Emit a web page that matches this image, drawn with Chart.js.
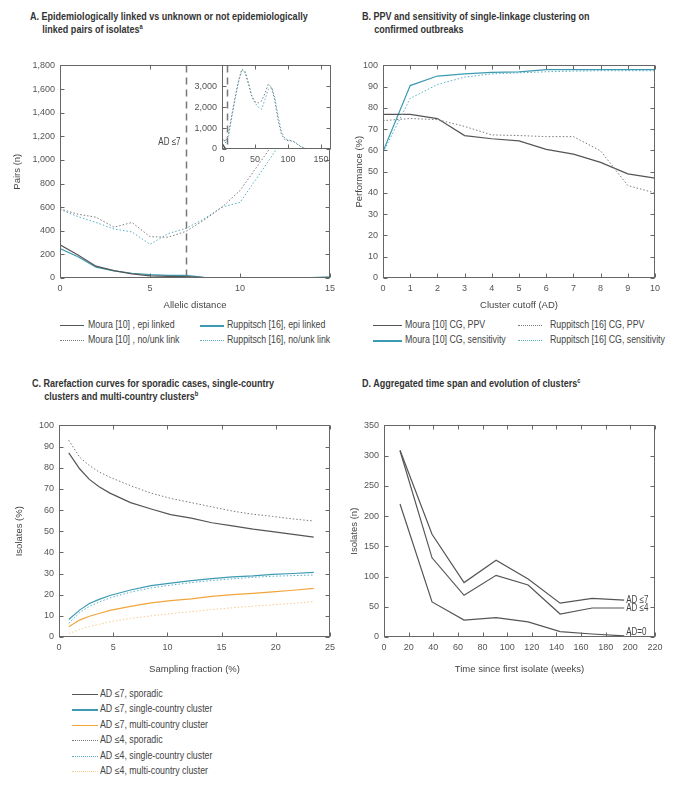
<!DOCTYPE html>
<html>
<head>
<meta charset="utf-8">
<script src="https://cdn.jsdelivr.net/npm/chart.js@4.4.1/dist/chart.umd.min.js"></script>
<style>
body { margin: 0; background: #fff; width: 676px; height: 785px; position: relative; overflow: hidden;
       font-family: 'Liberation Sans', Arial, sans-serif; color: #444; }
canvas { position: absolute; }
.title { position: absolute; font-weight: bold; font-size: 11px; line-height: 13px; color: #333; white-space: nowrap;
         padding-left: 15px; text-indent: -15px; transform: scaleX(0.82); transform-origin: 0 0; }
.title sup { font-size: 7px; line-height: 0; vertical-align: 4px; }
.leg { position: absolute; font-size: 10px; color: #444; white-space: nowrap; line-height: 12px;
       transform: scaleX(0.88); transform-origin: 0 50%; }
.smp { position: absolute; }
</style>
</head>
<body>
<div class="title" style="left:30px;top:10px">A. Epidemiologically linked vs unknown or not epidemiologically<br>linked pairs of isolates<sup>a</sup></div>
<div class="title" style="left:362px;top:10px">B. PPV and sensitivity of single-linkage clustering on<br>confirmed outbreaks</div>
<div class="title" style="left:32px;top:377px">C. Rarefaction curves for sporadic cases, single-country<br>clusters and multi-country clusters<sup>b</sup></div>
<div class="title" style="left:362px;top:377px">D. Aggregated time span and evolution of clusters<sup>c</sup></div>

<canvas id="chartA" width="340" height="260" style="left:0;top:55px"></canvas>
<canvas id="chartInset" width="150" height="115" style="left:190px;top:55px"></canvas>
<canvas id="chartB" width="336" height="260" style="left:340px;top:55px"></canvas>
<canvas id="chartC" width="340" height="265" style="left:0;top:415px"></canvas>
<canvas id="chartD" width="336" height="265" style="left:340px;top:415px"></canvas>
<div id="legends"></div>

<script>
// ---- A: pairs by allelic distance
const allelicDistance = [0, 1, 2, 3, 4, 5, 6, 7, 8, 9, 10, 11, 12, 13, 14, 15]
const mouraEpi = [282, 195, 100, 62, 35, 18, 13, 11, 4, 3, 2, 2, 2, 2, 2, 3]
const ruppEpi = [250, 180, 92, 60, 40, 28, 22, 22, 6, 4, 3, 3, 3, 3, 4, 10]
const mouraNoLink = [585, 540, 515, 430, 470, 350, 345, 395, 490, 600, 740, 955, 1170, 1450, 1750, 2050]
const ruppNoLink = [580, 520, 470, 415, 390, 285, 375, 420, 500, 600, 640, 860, 1085, 1350, 1650, 1950]
const pairTicks = [0, 200, 400, 600, 800, 1000, 1200, 1400, 1600, 1800]
const distanceTicks = [0, 5, 10, 15]

// inset: whole distance range
const insetDistance = [0, 5, 10, 15, 20, 25, 30, 35, 40, 45, 50, 55, 60, 65, 70, 75, 80, 85, 90, 95, 100, 105, 110, 115, 120, 125, 130, 135, 140, 145, 150, 155, 160]
const insetMouraNoLink = [585, 350, 740, 1650, 2500, 3250, 3800, 3700, 3150, 2550, 2250, 2200, 2300, 2650, 3100, 2950, 2300, 1350, 700, 450, 400, 380, 320, 200, 90, 30, 5, 0, 0, 0, 0, 0, 0]
const insetRuppNoLink = [580, 285, 640, 1550, 2400, 3200, 3750, 3650, 3100, 2500, 2200, 2000, 1900, 2350, 2850, 2950, 2450, 1550, 850, 500, 430, 400, 340, 220, 110, 40, 8, 0, 0, 0, 0, 0, 0]
const insetMouraEpi = [282, 18, 2, 1, 0, 0, 0]
const insetRuppEpi = [250, 28, 3, 5, 2, 1, 0]
const insetPairTicks = [0, 1000, 2000, 3000]
const insetDistanceTicks = [0, 50, 100, 150]

// ---- B: PPV / sensitivity per cutoff
const cutoff = [0, 1, 2, 3, 4, 5, 6, 7, 8, 9, 10]
const mouraPPV = [77, 77, 75, 67, 65.5, 64.5, 60.5, 58.3, 54.4, 49, 47]
const mouraSens = [59.5, 90.5, 95, 96, 96.7, 97, 98, 98, 98, 98, 98]
const ruppPPV = [74, 75, 74.5, 71.3, 67.3, 67, 66.5, 66.5, 59.8, 43.5, 40]
const ruppSens = [59, 84.5, 91, 94.5, 96, 96.5, 97, 97.3, 97.5, 97.5, 97.5]
const percentTicks = [0, 10, 20, 30, 40, 50, 60, 70, 80, 90, 100]
const cutoffTicks = [0, 1, 2, 3, 4, 5, 6, 7, 8, 9, 10]

// ---- C: rarefaction
const samplingFraction = [0.9, 1.9, 2.8, 3.7, 4.7, 6.6, 8.5, 10.3, 12.2, 14.1, 16.0, 17.9, 19.7, 21.6, 23.5]
const ad7Sporadic = [87, 79.5, 74.5, 71, 68, 63.5, 60.5, 57.8, 56.2, 54, 52.5, 51, 49.8, 48.5, 47.2]
const ad7Single = [8.3, 12.7, 15.8, 17.8, 19.6, 22.2, 24.3, 25.5, 26.6, 27.6, 28.4, 28.9, 29.6, 30, 30.5]
const ad7Multi = [4.8, 8, 9.8, 11.1, 12.6, 14.5, 16.1, 17.2, 18, 19.2, 20, 20.6, 21.3, 22.1, 23]
const ad4Sporadic = [93, 85, 81, 78, 75.5, 71.5, 68, 65.5, 63.5, 61.5, 59.5, 58, 57, 55.8, 54.8]
const ad4Single = [6.5, 11.5, 14.5, 16.5, 18.5, 21.2, 23.2, 24.5, 25.7, 26.7, 27.5, 28.2, 28.7, 29, 29.3]
const ad4Multi = [1.6, 3.5, 5, 6, 7.2, 8.8, 10, 11, 12, 13, 13.8, 14.6, 15.2, 15.9, 16.7]
const fractionTicks = [0, 5, 10, 15, 20, 25]

// ---- D: time span
const weeks = [13, 39, 65, 91, 117, 143, 169, 195]
const clusterAD7 = [309, 170, 90, 127, 96, 56, 64, 61]
const clusterAD4 = [308, 131, 69, 102, 86, 38, 48, 48]
const clusterAD0 = [220, 58, 28, 32, 25, 9, 5, 2]
const isolateTicks = [0, 50, 100, 150, 200, 250, 300, 350]
const weekTicks = [0, 20, 40, 60, 80, 100, 120, 140, 160, 180, 200, 220]

const FONT = "'Liberation Sans', Arial, sans-serif"
Chart.defaults.font.family = FONT
Chart.defaults.color = '#555'

const GREY = '#555'
const GREY_DOT = '#7a7a7a'
const TEAL = '#3d9ab3'
const TEAL_DOT = '#58aec5'
const ORANGE = '#f2a53c'
const ORANGE_DOT = '#f7cb8f'
const DOT = [1.5, 2]

function pts(xs, ys) {
    return ys.map((v, i) => ({ x: xs[i], y: v }))
}

function ds(xs, ys, color, dotted, extra) {
    return Object.assign({
        data: pts(xs, ys),
        borderColor: color,
        borderWidth: dotted ? 1 : 1.2,
        borderDash: dotted ? DOT : [],
        pointRadius: 0,
        tension: 0,
        fill: false
    }, extra || {})
}

// narrow text: squeeze horizontally
function narrowText(ctx, text, x, y, align, sx) {
    ctx.save()
    ctx.translate(x, y)
    ctx.scale(sx, 1)
    ctx.textAlign = align
    ctx.textBaseline = 'middle'
    ctx.fillText(text, 0, 0)
    ctx.restore()
}

// frame with inward ticks on all four sides
const frameTicks = {
    id: 'frameTicks',
    afterDatasetsDraw(chart) {
        const { ctx, chartArea: a } = chart
        const sx = chart.scales.x, sy = chart.scales.y
        const L = Math.round(a.left) + 0.5, R = Math.round(a.right) - 0.5
        const T = Math.round(a.top) + 0.5, B = Math.round(a.bottom) - 0.5
        ctx.save()
        ctx.strokeStyle = '#666'
        ctx.lineWidth = 1
        ctx.setLineDash([])
        ctx.beginPath()
        sx.ticks.forEach((t) => {
            const p = Math.round(sx.getPixelForValue(t.value)) + 0.5
            ctx.moveTo(p, B); ctx.lineTo(p, B - 4)
            ctx.moveTo(p, T); ctx.lineTo(p, T + 4)
        })
        sy.ticks.forEach((t) => {
            const p = Math.round(sy.getPixelForValue(t.value)) + 0.5
            ctx.moveTo(L, p); ctx.lineTo(L + 4, p)
            ctx.moveTo(R, p); ctx.lineTo(R - 4, p)
        })
        ctx.stroke()
        ctx.strokeRect(L, T, R - L, B - T)
        ctx.restore()
    }
}

// dashed cut-off line at AD 7
const cutLine = {
    id: 'cutLine',
    afterDatasetsDraw(chart, args, opts) {
        const { ctx, chartArea: a } = chart
        const px = Math.round(chart.scales.x.getPixelForValue(7)) + 0.5
        ctx.save()
        ctx.beginPath()
        ctx.rect(a.left, a.top, a.right - a.left, a.bottom - a.top)
        ctx.clip()
        ctx.strokeStyle = '#777'
        ctx.lineWidth = 1.5
        ctx.setLineDash([7, 5])
        ctx.beginPath()
        ctx.moveTo(px, a.top)
        ctx.lineTo(px, a.bottom)
        ctx.stroke()
        if (opts.label) {
            ctx.fillStyle = '#444'
            ctx.font = '10px ' + FONT
            narrowText(ctx, opts.label, px - 6, chart.scales.y.getPixelForValue(1150), 'right', 0.8)
        }
        ctx.restore()
    }
}

const whiteArea = {
    id: 'whiteArea',
    beforeDraw(chart) {
        const { ctx, chartArea: a } = chart
        ctx.save()
        ctx.fillStyle = '#fff'
        ctx.fillRect(a.left, a.top, a.right - a.left, a.bottom - a.top)
        ctx.restore()
    }
}

// end-of-line tags in D
const endTags = {
    id: 'endTags',
    afterDatasetsDraw(chart) {
        const ctx = chart.ctx
        ctx.save()
        ctx.fillStyle = '#444'
        ctx.font = '10px ' + FONT
        chart.data.datasets.forEach((d, i) => {
            if (!d.tag) return
            const last = chart.getDatasetMeta(i).data[d.data.length - 1]
            narrowText(ctx, d.tag, last.x + 2, last.y + (d.tagDy || 0), 'left', 0.8)
        })
        ctx.restore()
    }
}

function axes(o) {
    const tickFont = { size: 9 }
    return {
        x: {
            type: 'linear',
            min: o.xmin, max: o.xmax,
            grid: { display: false, drawTicks: false },
            border: { display: false },
            ticks: { padding: 5, font: tickFont, color: '#555', maxRotation: 0, autoSkip: false,
                      callback: (v) => v.toLocaleString('en-US') },
            afterBuildTicks: (s) => { s.ticks = o.xticks.map((v) => ({ value: v })) },
            afterFit: (s) => { s.height = o.xh },
            title: { display: !!o.xtitle, text: o.xtitle, color: '#444', font: { size: 9.5 },
                     padding: { top: 0, bottom: o.xtpad || 4 } }
        },
        y: {
            type: 'linear',
            min: o.ymin, max: o.ymax,
            grid: { display: false, drawTicks: false },
            border: { display: false },
            ticks: { padding: 5, font: tickFont, color: '#555', autoSkip: false,
                      callback: (v) => v.toLocaleString('en-US') },
            afterBuildTicks: (s) => { s.ticks = o.yticks.map((v) => ({ value: v })) },
            afterFit: (s) => { s.width = o.yw },
            title: { display: !!o.ytitle, text: o.ytitle, color: '#444', font: { size: 9.5 },
                     padding: { top: o.ytpad || 10, bottom: 0 } }
        }
    }
}

function makeChart(id, datasets, o, plugins, pluginOpts) {
    return new Chart(document.getElementById(id), {
        type: 'line',
        data: { datasets: datasets },
        options: {
            responsive: false,
            animation: false,
            devicePixelRatio: 1,
            layout: { padding: o.pad },
            scales: axes(o),
            plugins: Object.assign({ legend: { display: false }, tooltip: { enabled: false } }, pluginOpts || {})
        },
        plugins: plugins
    })
}

// A main
makeChart('chartA', [
    ds(allelicDistance, mouraNoLink, GREY_DOT, true),
    ds(allelicDistance, ruppNoLink, TEAL_DOT, true),
    ds(allelicDistance, mouraEpi, GREY, false),
    ds(allelicDistance, ruppEpi, TEAL, false)
], { xmin: 0, xmax: 15, xticks: distanceTicks, ymin: 0, ymax: 1800, yticks: pairTicks, yw: 60, xh: 37,
     pad: { top: 8, right: 9, left: 0, bottom: 0 }, xtitle: 'Allelic distance', ytitle: 'Pairs (n)', ytpad: 12 },
   [cutLine, frameTicks], { cutLine: { label: 'AD ≤7' } })

// A inset
makeChart('chartInset', [
    ds(insetDistance, insetMouraNoLink, GREY_DOT, true),
    ds(insetDistance, insetRuppNoLink, TEAL_DOT, true),
    ds(insetDistance, insetMouraEpi, GREY, false),
    ds(insetDistance, insetRuppEpi, TEAL, false)
], { xmin: 0, xmax: 165, xticks: insetDistanceTicks, ymin: 0, ymax: 3990, yticks: insetPairTicks, yw: 32, xh: 21,
     pad: { top: 8, right: 9, left: 0, bottom: 0 } },
   [whiteArea, cutLine, frameTicks], { cutLine: {} })

// B
makeChart('chartB', [
    ds(cutoff, ruppPPV, GREY_DOT, true),
    ds(cutoff, ruppSens, TEAL_DOT, true),
    ds(cutoff, mouraPPV, GREY, false),
    ds(cutoff, mouraSens, TEAL, false)
], { xmin: 0, xmax: 10, xticks: cutoffTicks, ymin: 0, ymax: 100, yticks: percentTicks, yw: 43, xh: 37,
     pad: { top: 8, right: 21, left: 0, bottom: 0 }, xtitle: 'Cluster cutoff (AD)', ytitle: 'Performance (%)', ytpad: 14 },
   [frameTicks])

// C
makeChart('chartC', [
    ds(samplingFraction, ad4Multi, ORANGE_DOT, true),
    ds(samplingFraction, ad4Single, TEAL_DOT, true),
    ds(samplingFraction, ad4Sporadic, GREY_DOT, true),
    ds(samplingFraction, ad7Multi, ORANGE, false),
    ds(samplingFraction, ad7Single, TEAL, false),
    ds(samplingFraction, ad7Sporadic, GREY, false)
], { xmin: 0, xmax: 25, xticks: fractionTicks, ymin: 0, ymax: 100, yticks: percentTicks, yw: 59, xh: 43, xtpad: 5,
     pad: { top: 8, right: 9, left: 0, bottom: 0 }, xtitle: 'Sampling fraction (%)', ytitle: 'Isolates (%)', ytpad: 14 },
   [frameTicks])

// D
makeChart('chartD', [
    ds(weeks, clusterAD7, GREY, false, { tag: 'AD ≤7' }),
    ds(weeks, clusterAD4, GREY, false, { tag: 'AD ≤4' }),
    ds(weeks, clusterAD0, GREY, false, { tag: 'AD=0', tagDy: -4 })
], { xmin: 0, xmax: 220, xticks: weekTicks, ymin: 0, ymax: 350, yticks: isolateTicks, yw: 44, xh: 43, xtpad: 5,
     pad: { top: 8, right: 21, left: 0, bottom: 0 }, xtitle: 'Time since first isolate (weeks)', ytitle: 'Isolates (n)', ytpad: 9 },
   [frameTicks, endTags])

// html legends: text, colour, dotted, line x, y, line width, text x
const legendItems = [
    ['Moura [10] , epi linked', GREY, false, 60, 325, 24, 88],
    ['Moura [10] , no/unk link', GREY_DOT, true, 60, 340, 24, 88],
    ['Ruppitsch [16], epi linked', TEAL, false, 200, 325, 24, 227],
    ['Ruppitsch [16], no/unk link', TEAL_DOT, true, 200, 340, 24, 227],
    ['Moura [10] CG, PPV', GREY, false, 373, 325, 29, 405],
    ['Moura [10] CG, sensitivity', TEAL, false, 373, 340, 29, 405],
    ['Ruppitsch [16] CG, PPV', GREY_DOT, true, 518, 325, 24, 550],
    ['Ruppitsch [16] CG, sensitivity', TEAL_DOT, true, 518, 340, 24, 550],
    ['AD ≤7, sporadic', GREY, false, 72, 694, 26, 100],
    ['AD ≤7, single-country cluster', TEAL, false, 72, 709, 26, 100],
    ['AD ≤7, multi-country cluster', ORANGE, false, 72, 725, 26, 100],
    ['AD ≤4, sporadic', GREY_DOT, true, 72, 740, 26, 100],
    ['AD ≤4, single-country cluster', TEAL_DOT, true, 72, 756, 26, 100],
    ['AD ≤4, multi-country cluster', ORANGE_DOT, true, 72, 771, 26, 100]
]
const legRoot = document.getElementById('legends')
legendItems.forEach(([text, color, dotted, lx, ly, lw, tx]) => {
    const s = document.createElement('div')
    s.className = 'smp'
    s.style.left = lx + 'px'
    s.style.width = lw + 'px'
    s.style.top = ly + 'px'
    if (dotted) {
        s.style.height = '0'
        s.style.borderTop = '1px dotted ' + color
    } else {
        s.style.height = (color === TEAL ? 1.5 : 1) + 'px'
        s.style.background = color
    }
    legRoot.appendChild(s)
    const t = document.createElement('div')
    t.className = 'leg'
    t.style.left = tx + 'px'
    t.style.top = (ly - 6) + 'px'
    t.textContent = text
    legRoot.appendChild(t)
})
</script>
</body>
</html>
